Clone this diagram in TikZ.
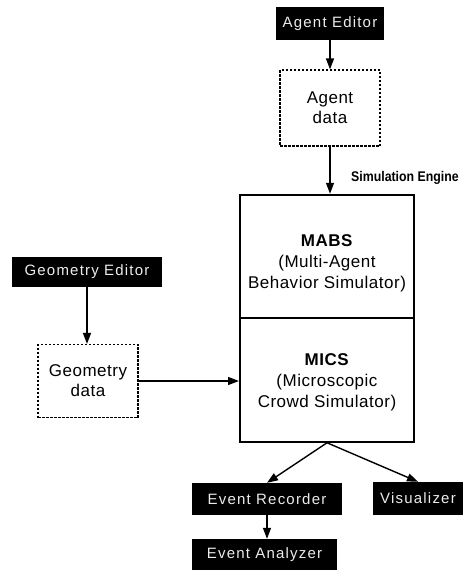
\documentclass[tikz,border=0pt]{standalone}
\usepackage{fontspec}
\setmainfont{Liberation Sans}
\newfontfamily\spacedfont[LetterSpace=8]{Liberation Sans}
\newfontfamily\widefont[LetterSpace=3]{Liberation Sans}
\newfontfamily\narrowfont[FakeStretch=0.88]{Liberation Sans}
\usetikzlibrary{arrows.meta}

\begin{document}
\begin{tikzpicture}[x=1pt,y=-1pt,
  editor/.style={fill=black, text=gray!15, inner sep=0pt,
    font=\spacedfont\fontsize{15}{18}\selectfont},
  datafile/.style={draw, line width=1.3pt, dash pattern=on 2.5pt off 1.5pt,
    align=center, inner sep=0pt, font=\widefont\fontsize{17}{20}\selectfont},
  engine/.style={draw, line width=2pt, inner sep=0pt,
    minimum width=174pt, minimum height=123.5pt},
  enginetext/.style={align=center, inner sep=0pt,
    font=\widefont\fontsize{17}{21}\selectfont},
  flow/.style={line width=1.4pt, -{Triangle[length=11pt,width=8pt]}},
]
\useasboundingbox (0,0) rectangle (464,570);

% agent branch
\node[editor, minimum width=108pt, minimum height=33pt] (ae) at (330,23.5) {Agent Editor};
\node[datafile, minimum width=100pt, minimum height=76pt] (ad) at (330,108) {Agent\\data};

% simulation engine
\node[engine] (mabs) at (327,256.5) {};
\node[engine] (mics) at (327,380) {};
\node[enginetext] (mabstext) at ([yshift=-7pt]mabs.center) {\textbf{MABS}\\(Multi-Agent\\Behavior Simulator)};
\node[enginetext] (micstext) at ([yshift=-2pt]mics.center) {\textbf{MICS}\\(Microscopic\\Crowd Simulator)};
\node[anchor=west, inner sep=0pt, font=\narrowfont\bfseries\fontsize{14}{16}\selectfont]
  (se) at (351,178) {Simulation Engine};

% geometry branch
\node[editor, minimum width=150pt, minimum height=30pt] (ge) at (87,272) {Geometry Editor};
\node[datafile, minimum width=100pt, minimum height=73pt] (gd) at (88,381) {Geometry\\data};

% outputs
\node[editor, minimum width=150pt, minimum height=32pt] (er) at (267,499) {Event Recorder};
\node[editor, minimum width=90pt, minimum height=33pt] (vis) at (418,498.5) {Visualizer};
\node[editor, minimum width=145pt, minimum height=31pt] (ea) at (264.5,554.5) {Event Analyzer};

% connectors
\draw[flow] (ae.south) -- (ae.south |- ad.north);
\draw[flow] (ad.south) -- (ad.south |- mabs.north);
\draw[flow] (ge.south) -- (ge.south |- gd.north);
\draw[flow] (gd.east) -- (gd.east -| mics.west);
\draw[flow] (mics.south) -- (er.north);
\draw[flow] (mics.south) -- (vis.north);
\draw[flow] (er.south) -- (er.south |- ea.north);
\end{tikzpicture}
\end{document}
